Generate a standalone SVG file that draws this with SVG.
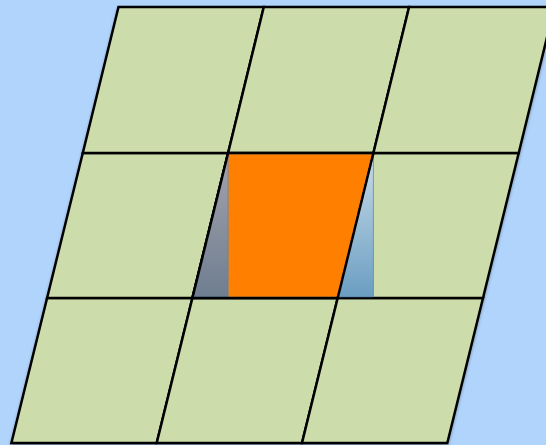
<svg xmlns="http://www.w3.org/2000/svg" width="546" height="445" viewBox="0 0 546 445">
  <defs>
    <style>
      .cell { fill: #cddcab; stroke: #000; stroke-width: 2.5; stroke-linejoin: miter; }
      .tri { stroke: #4f7fb5; stroke-opacity: 0.7; stroke-width: 1; }
    </style>
    <filter id="sh" x="-10%" y="-10%" width="120%" height="120%">
      <feDropShadow dx="0" dy="2" stdDeviation="1.5" flood-color="#000" flood-opacity="0.3"/>
    </filter>
    <linearGradient id="gl" x1="0" y1="0" x2="0" y2="1">
      <stop offset="0" stop-color="#a3a3ab"/>
      <stop offset="1" stop-color="#6f7e91"/>
    </linearGradient>
    <linearGradient id="gr" x1="0" y1="0" x2="0" y2="1">
      <stop offset="0" stop-color="#c8dbe8"/>
      <stop offset="1" stop-color="#6b9ec2"/>
    </linearGradient>
  </defs>
  <rect width="546" height="445" fill="#b0d4fc"/>
  <g id="grid" filter="url(#sh)">
    <g id="cell-3-1"><polygon class="cell" points="47.1,298 192.4,298 156.7,443 11.4,443"/></g>
    <g id="cell-3-2"><polygon class="cell" points="192.4,298 337.7,298 302,443 156.7,443"/></g>
    <g id="cell-3-3"><polygon class="cell" points="337.7,298 483,298 447.3,443 302,443"/></g>
    <g id="cell-2-1"><polygon class="cell" points="82.8,153 228.1,153 192.4,298 47.1,298"/></g>
    <g id="cell-2-2"><polygon class="cell" points="228.1,153 373.4,153 337.7,298 192.4,298"/></g>
    <g id="cell-2-3"><polygon class="cell" points="373.4,153 518.7,153 483,298 337.7,298"/></g>
    <g id="cell-1-1"><polygon class="cell" points="118.5,7 263.8,7 228.1,153 82.8,153"/></g>
    <g id="cell-1-2"><polygon class="cell" points="263.8,7 409.1,7 373.4,153 228.1,153"/></g>
    <g id="cell-1-3"><polygon class="cell" points="409.1,7 554.4,7 518.7,153 373.4,153"/></g>
  </g>
  <g id="center">
    <polygon id="orange" points="228.1,154.3 372.2,154.3 337.7,296.8 228.1,296.8" fill="#ff8000"/>
    <polygon id="tri-left" class="tri" points="228.1,154.3 228.1,296.8 192.8,296.8" fill="url(#gl)"/>
    <polygon id="tri-right" class="tri" points="373.4,154.3 373.4,296.8 338,296.8" fill="url(#gr)"/>
  </g>
  <g id="lines" fill="none" stroke="#000" stroke-width="2.5">
    <line x1="192.4" y1="298" x2="228.1" y2="153"/>
    <line x1="337.7" y1="298" x2="373.4" y2="153"/>
    <line x1="192.4" y1="298" x2="337.7" y2="298"/>
    <line x1="228.1" y1="153" x2="373.4" y2="153"/>
  </g>
</svg>
